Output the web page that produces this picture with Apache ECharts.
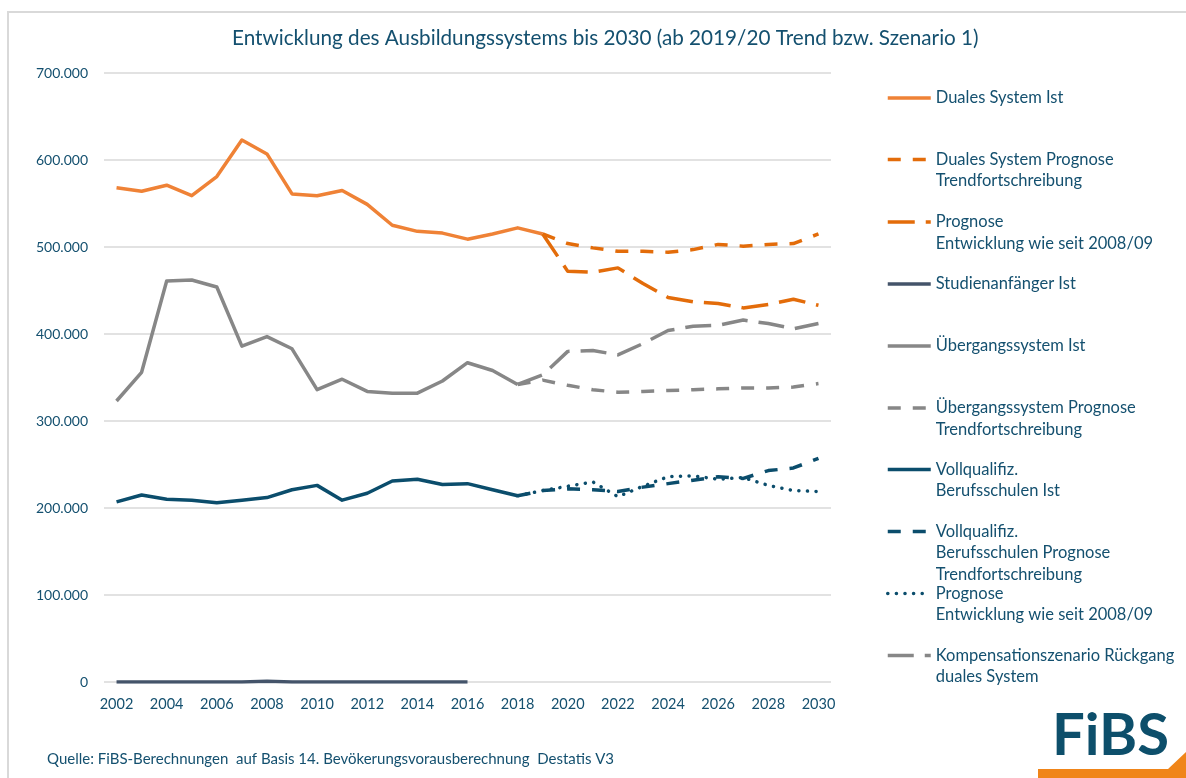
<!DOCTYPE html>
<html lang="de">
<head>
    <meta charset="UTF-8">
    <title>Entwicklung des Ausbildungssystems bis 2030</title>
    <style>
        * {
            margin: 0;
            padding: 0;
        }

        body {
            background: #fff;
        }

        .main {
            width: 1186px;
            height: 778px;
        }
    </style>
</head>
<body>
<div id="main" class="main"></div>
<script src="https://cdn.jsdelivr.net/npm/echarts@6.0.0/dist/echarts.min.js"></script>
<script>
    // Jahre
    var years = ['2002', '2003', '2004', '2005', '2006', '2007', '2008', '2009', '2010', '2011',
        '2012', '2013', '2014', '2015', '2016', '2017', '2018', '2019', '2020', '2021',
        '2022', '2023', '2024', '2025', '2026', '2027', '2028', '2029', '2030'];

    var yTicks = [0, 100000, 200000, 300000, 400000, 500000, 600000, 700000];

    // Duales System
    var dualesIst = [568000, 564000, 571000, 559000, 581000, 623000, 607000, 561000, 559000, 565000,
        549000, 525000, 518000, 516000, 509000, 515000, 522000, 515000, null, null,
        null, null, null, null, null, null, null, null, null];
    var dualesTrend = [null, null, null, null, null, null, null, null, null, null,
        null, null, null, null, null, null, null, 515000, 504000, 499000,
        495000, 495000, 494000, 497000, 503000, 501000, 503000, 504000, 515000];
    var dualesProg = [null, null, null, null, null, null, null, null, null, null,
        null, null, null, null, null, null, null, 515000, 472000, 471000,
        476000, 458000, 442000, 437000, 435000, 430000, 434000, 440000, 433000];

    // Studienanfänger
    var studIst = [0, 0, 0, 0, 0, 0, 1000, 0, 0, 0,
        0, 0, 0, 0, 0, null, null, null, null, null,
        null, null, null, null, null, null, null, null, null];

    // Übergangssystem
    var uebIst = [323000, 356000, 461000, 462000, 454000, 386000, 397000, 383000, 336000, 348000,
        334000, 332000, 332000, 346000, 367000, 358000, 342000, null, null, null,
        null, null, null, null, null, null, null, null, null];
    var uebTrend = [null, null, null, null, null, null, null, null, null, null,
        null, null, null, null, null, null, 342000, 347000, 341000, 336000,
        333000, 334000, 335000, 336000, 337000, 338000, 338000, 339000, 343000];
    var kompensation = [null, null, null, null, null, null, null, null, null, null,
        null, null, null, null, null, null, 342000, 353000, 380000, 381000,
        376000, 389000, 404000, 409000, 410000, 416000, 412000, 406000, 412000];

    // Vollqualifizierende Berufsschulen
    var vqIst = [207000, 215000, 210000, 209000, 206000, 209000, 212000, 221000, 226000, 209000,
        217000, 231000, 233000, 227000, 228000, 221000, 214000, null, null, null,
        null, null, null, null, null, null, null, null, null];
    var vqTrend = [null, null, null, null, null, null, null, null, null, null,
        null, null, null, null, null, null, 214000, 220000, 222000, 221000,
        219000, 224000, 228000, 232000, 236000, 234000, 243000, 246000, 257000];
    var vqProg = [null, null, null, null, null, null, null, null, null, null,
        null, null, null, null, null, null, 214000, 220000, 225000, 230000,
        213000, 225000, 236000, 237000, 233000, 235000, 226000, 220000, 219000];

    var textColor = '#14506f';
    var fontFamily = 'Lato, "Noto Sans", sans-serif';
    var LH = 21.5;

    function fmt(v) {
        return String(v).replace(/\B(?=(\d{3})+(?!\d))/g, '.');
    }

    function line(name, data, color, type, cap) {
        return {
            name: name,
            type: 'line',
            data: data,
            symbol: 'none',
            symbolSize: 0,
            connectNulls: false,
            lineStyle: {color: color, width: 3.5, type: type || 'solid', cap: cap || 'butt', join: 'round'},
            itemStyle: {color: color},
            emphasis: {disabled: true}
        };
    }

    var series = [
        line('Duales System Ist', dualesIst, '#ef8236'),
        line('Duales System Prognose Trendfortschreibung', dualesTrend, '#e36c0a', [13, 12]),
        line('Duales System Prognose Entwicklung wie seit 2008/09', dualesProg, '#e36c0a', [27, 11]),
        line('Studienanfänger Ist', studIst, '#44546a'),
        line('Übergangssystem Ist', uebIst, '#878787'),
        line('Übergangssystem Prognose Trendfortschreibung', uebTrend, '#878787', [13, 12]),
        line('Vollqualifiz. Berufsschulen Ist', vqIst, '#0b4d6c'),
        line('Vollqualifiz. Berufsschulen Prognose Trendfortschreibung', vqTrend, '#0b4d6c', [13, 12]),
        line('Vollqualifiz. Berufsschulen Prognose Entwicklung wie seit 2008/09', vqProg, '#0b4d6c', [0.1, 8.5], 'round'),
        line('Kompensationszenario Rückgang duales System', kompensation, '#878787', [26, 11])
    ];

    // Legendentexte (Zeilen) und y-Position der ersten Zeile
    var legendItems = [
        [['Duales System Ist'], 98],
        [['Duales System Prognose', 'Trendfortschreibung'], 159.5],
        [['Prognose', 'Entwicklung wie seit 2008/09'], 222],
        [['Studienanfänger Ist'], 284],
        [['Übergangssystem Ist'], 346],
        [['Übergangssystem Prognose', 'Trendfortschreibung'], 408],
        [['Vollqualifiz.', 'Berufsschulen Ist'], 469.5],
        [['Vollqualifiz.', 'Berufsschulen Prognose', 'Trendfortschreibung'], 531.5],
        [['Prognose', 'Entwicklung wie seit 2008/09'], 593.5],
        [['Kompensationszenario Rückgang', 'duales System'], 655.5]
    ];

    var legends = legendItems.map(function (it, i) {
        var lines = it[0];
        var n = lines.length;
        // leere Zeilen davor, damit das Symbol auf Höhe der ersten Zeile steht
        var pad = [];
        for (var k = 1; k < n; k++) pad.push('');
        var txt = pad.concat(lines).join('\n');
        var total = 2 * n - 1;
        return {
            show: true,
            data: [series[i].name],
            left: 886,
            top: it[1] - total * LH / 2,
            padding: 0,
            itemWidth: 43,
            itemHeight: 14,
            selectedMode: false,
            itemStyle: {opacity: 0, borderWidth: 0},
            lineStyle: {width: 3.5},
            formatter: function () {
                return txt;
            },
            textStyle: {color: textColor, fontSize: 16.5, fontFamily: fontFamily, lineHeight: LH}
        };
    });

    var myChart = echarts.init(document.getElementById('main'), null, {renderer: 'canvas'});

    myChart.setOption({
        animation: false,
        backgroundColor: '#fff',
        title: {
            text: 'Entwicklung des Ausbildungssystems bis 2030 (ab 2019/20 Trend bzw. Szenario 1)',
            left: 232,
            top: 28,
            padding: 0,
            textStyle: {color: textColor, fontSize: 20.7, fontWeight: 'normal', fontFamily: fontFamily}
        },
        legend: legends,
        grid: {left: 104, right: 355, top: 73, bottom: 96, containLabel: false},
        xAxis: {
            type: 'category',
            data: years,
            boundaryGap: true,
            axisLine: {show: false},
            axisTick: {show: false},
            axisLabel: {
                interval: 1,
                margin: 15,
                color: textColor,
                fontSize: 14.5,
                fontFamily: fontFamily
            }
        },
        yAxis: {
            type: 'value',
            min: yTicks[0],
            max: yTicks[yTicks.length - 1],
            interval: 100000,
            axisLine: {show: false},
            axisTick: {show: false},
            splitLine: {lineStyle: {color: '#d9d9d9', width: 1.5}},
            axisLabel: {
                margin: 16,
                color: textColor,
                fontSize: 14,
                fontFamily: fontFamily,
                formatter: fmt
            }
        },
        graphic: [
            {
                type: 'rect',
                shape: {x: 8, y: 12, width: 1200, height: 800},
                style: {fill: 'none', stroke: '#d9d9d9', lineWidth: 2},
                silent: true,
                z: -10
            },
            {
                type: 'text',
                left: 47,
                top: 752,
                style: {
                    text: 'Quelle: FiBS-Berechnungen  auf Basis 14. Bevökerungsvorausberechnung  Destatis V3',
                    fill: textColor,
                    font: '15px ' + fontFamily
                },
                silent: true
            },
            {
                type: 'text',
                left: 1052,
                top: 707,
                style: {
                    text: 'FiBS',
                    fill: '#0d4f6b',
                    font: 'bold 58px ' + fontFamily
                },
                silent: true
            },
            {
                type: 'polygon',
                shape: {points: [[1038, 769], [1168, 769], [1186, 752], [1186, 778], [1038, 778]]},
                style: {fill: '#f08519'},
                silent: true
            }
        ],
        series: series
    });
</script>
</body>
</html>
